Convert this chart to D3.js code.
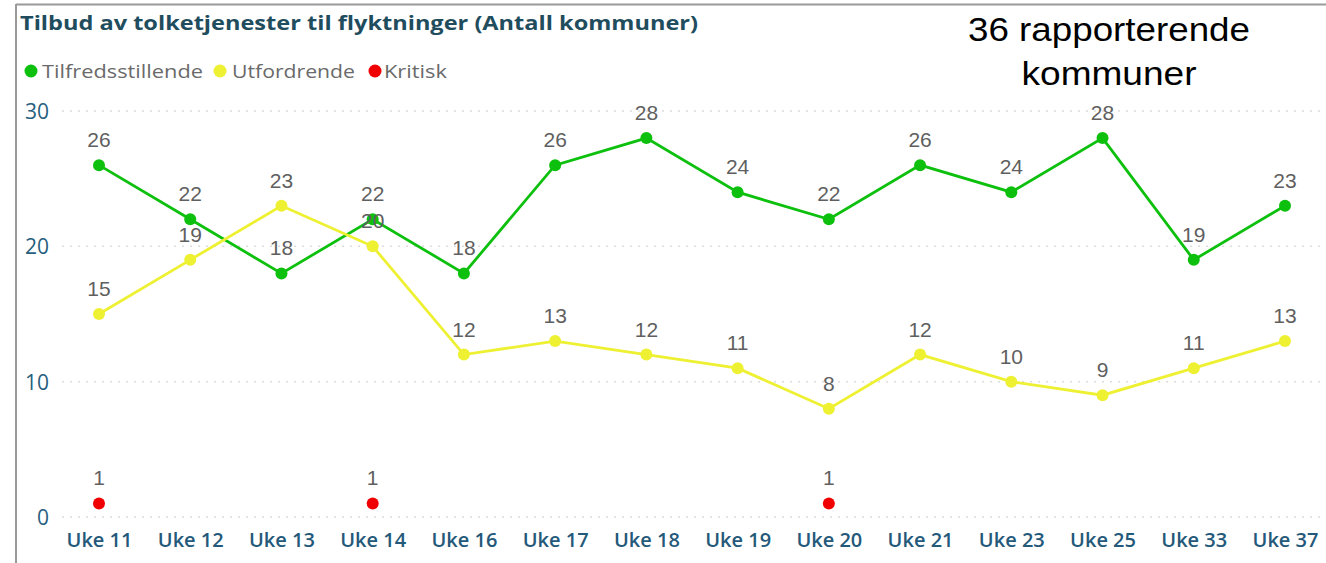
<!DOCTYPE html>
<html><head><meta charset="utf-8">
<script src="https://cdn.jsdelivr.net/npm/d3@7"></script>
<style>
html,body{margin:0;padding:0;background:#fff;}
svg{display:block;}
</style></head>
<body>
<script>
const categories = ["Uke 11","Uke 12","Uke 13","Uke 14","Uke 16","Uke 17","Uke 18","Uke 19","Uke 20","Uke 21","Uke 23","Uke 25","Uke 33","Uke 37"];
const tilfredsstillende = [26,22,18,22,18,26,28,24,22,26,24,28,19,23];
const utfordrende = [15,19,23,20,12,13,12,11,8,12,10,9,11,13];
const kritisk = [1,null,null,1,null,null,null,null,1,null,null,null,null,null];
const yTicks = [0,10,20,30];
const seriesNames = ["Tilfredsstillende","Utfordrende","Kritisk"];
const seriesColors = ["#0ec00e","#eef032","#f00000"];

const W = 1326, H = 563;
const svg = d3.select("body").append("svg").attr("width", W).attr("height", H);

// frame
svg.append("line").attr("x1",16).attr("x2",W).attr("y1",4.5).attr("y2",4.5).attr("stroke","#9a9a9a").attr("stroke-width",2);
svg.append("line").attr("x1",16).attr("x2",16).attr("y1",4).attr("y2",H).attr("stroke","#9a9a9a").attr("stroke-width",2);

const x = d3.scalePoint().domain(categories).range([99, 1285]);
const y = d3.scaleLinear().domain([0,30]).range([517, 111]);

// title
svg.append("text").attr("x",20).attr("y",30)
  .attr("font-family","'Open Sans', sans-serif").attr("font-weight","bold").attr("font-size",20)
  .attr("textLength",678).attr("lengthAdjust","spacingAndGlyphs")
  .attr("fill","#1f4d5e").text("Tilbud av tolketjenester til flyktninger (Antall kommuner)");

// legend
const legendPos = [{cx:31, tx:42, w:161},{cx:220, tx:232, w:123},{cx:375, tx:384, w:63}];
const lg = svg.append("g");
seriesNames.forEach((n,i)=>{
  const p = legendPos[i];
  lg.append("circle").attr("cx",p.cx).attr("cy",71).attr("r",6.5).attr("fill",seriesColors[i]);
  lg.append("text").attr("x",p.tx).attr("y",78)
    .attr("font-family","'Open Sans', sans-serif").attr("font-size",19).attr("fill","#6a6a6a")
    .attr("textLength",p.w).attr("lengthAdjust","spacingAndGlyphs").text(n);
});

// annotation
const annLines = [{t:"36 rapporterende", y:41, w:282},{t:"kommuner", y:85, w:175}];
annLines.forEach(a=>{
  svg.append("text").attr("x",1109).attr("y",a.y).attr("text-anchor","middle")
    .attr("font-family","'Liberation Sans', Arial, sans-serif").attr("font-size",34).attr("fill","#000")
    .attr("textLength",a.w).attr("lengthAdjust","spacingAndGlyphs").text(a.t);
});

// grid
const grid = svg.append("g");
yTicks.forEach(t=>{
  grid.append("line").attr("x1",62).attr("x2",W).attr("y1",y(t)).attr("y2",y(t))
    .attr("stroke","#dcdcdc").attr("stroke-width",1.5).attr("stroke-dasharray","2,6");
});

// y axis
const yAxis = svg.append("g").attr("transform","translate(49,0)")
  .call(d3.axisLeft(y).tickValues(yTicks).tickSize(0).tickPadding(0));
yAxis.select(".domain").remove();
yAxis.selectAll("text").attr("font-family","'Open Sans', sans-serif").attr("font-size",21).attr("fill","#27607e").attr("dy","0.36em");

// x axis
const xAxis = svg.append("g").attr("transform","translate(0,547)")
  .call(d3.axisBottom(x).tickSize(0).tickPadding(0));
xAxis.select(".domain").remove();
xAxis.selectAll("text").attr("font-family","'Open Sans', sans-serif").attr("font-size",20).attr("font-weight","600").attr("fill","#25597a").attr("dy","0");

// series
const allSeries = [tilfredsstillende, utfordrende, kritisk];
const line = d3.line().defined(d=>d.v!==null).x(d=>x(d.c)).y(d=>y(d.v));
allSeries.forEach((vals,i)=>{
  const data = vals.map((v,j)=>({c:categories[j], v:v}));
  const g = svg.append("g");
  g.append("path").datum(data).attr("d",line).attr("fill","none").attr("stroke",seriesColors[i]).attr("stroke-width",2.8);
  const pts = data.filter(d=>d.v!==null);
  g.selectAll("circle").data(pts).join("circle").attr("cx",d=>x(d.c)).attr("cy",d=>y(d.v)).attr("r",6).attr("fill",seriesColors[i]);
  g.selectAll("text").data(pts).join("text").attr("x",d=>x(d.c)).attr("y",d=>y(d.v)-18)
    .attr("text-anchor","middle").attr("font-family","'Liberation Sans', Arial, sans-serif").attr("font-size",21).attr("fill","#5f5f5f")
    .text(d=>d.v);
});
</script>
</body></html>
